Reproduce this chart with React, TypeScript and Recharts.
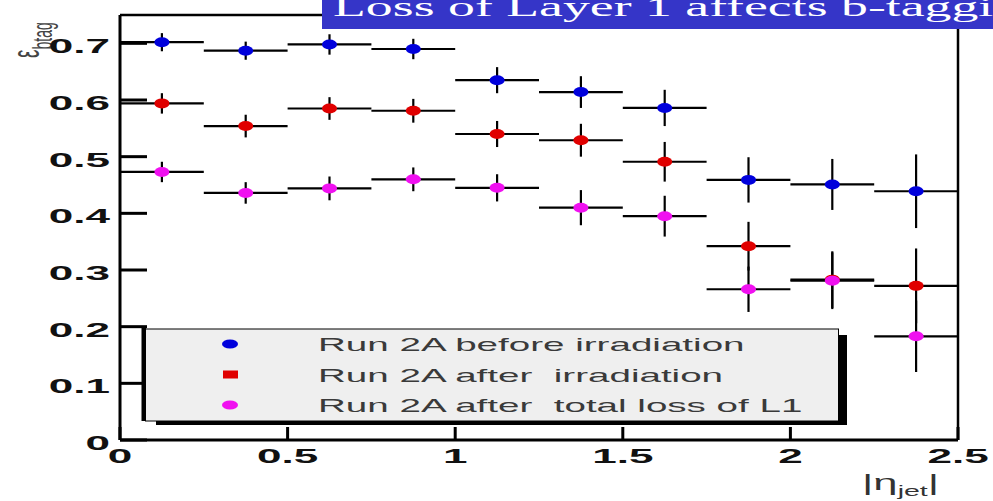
import React from "react";
import {
  ScatterChart,
  Scatter,
  XAxis,
  YAxis,
  ErrorBar,
  Legend,
} from "recharts";

// |eta_jet| bins (centres), each 0.25 wide
const etaBins = [0.125, 0.375, 0.625, 0.875, 1.125, 1.375, 1.625, 1.875, 2.125, 2.375];
const binHalfWidth = 0.125;

const effBefore = [0.702, 0.687, 0.698, 0.69, 0.635, 0.614, 0.586, 0.459, 0.451, 0.439];
const errBefore = [0.016, 0.016, 0.018, 0.018, 0.023, 0.028, 0.032, 0.04, 0.045, 0.065];

const effAfter = [0.594, 0.554, 0.585, 0.581, 0.54, 0.529, 0.491, 0.342, 0.283, 0.272];
const errAfter = [0.018, 0.02, 0.02, 0.021, 0.023, 0.029, 0.035, 0.043, 0.05, 0.066];

const effNoL1 = [0.473, 0.436, 0.444, 0.46, 0.445, 0.41, 0.395, 0.266, 0.281, 0.183];
const errNoL1 = [0.018, 0.019, 0.021, 0.021, 0.024, 0.031, 0.036, 0.04, 0.05, 0.063];

const seriesNames = [
  "Run 2A before irradiation",
  "Run 2A after  irradiation",
  "Run 2A after  total loss of L1",
];

const yMajor = [0, 0.1, 0.2, 0.3, 0.4, 0.5, 0.6, 0.7];
const yLabels = ["0", "0.1", "0.2", "0.3", "0.4", "0.5", "0.6", "0.7"];
const xMajor = [0, 0.5, 1, 1.5, 2, 2.5];
const xLabels = ["0", "0.5", "1", "1.5", "2", "2.5"];

const titleText = "Loss of Layer 1 affects b-tagging";

// minor ticks: 5 subdivisions per major step
const subdivide = (majors: number[], upTo: number) => {
  const step = (majors[1] - majors[0]) / 5;
  const out: number[] = [];
  for (let i = 0; i * step <= upTo + 1e-9; i++) out.push(Math.round(i * step * 1000) / 1000);
  return out;
};
const yMinor = subdivide(yMajor, 0.74);
const xMinor = subdivide(xMajor, 2.5);

const toPoints = (eff: number[], err: number[]) =>
  etaBins.map((x, i) => ({ x, y: eff[i], ey: err[i], ex: binHalfWidth }));

const W = 993;
const H = 501;
const LABEL_FONT = "'Liberation Sans', Arial, Helvetica, sans-serif";
const TICK_LINE = { stroke: "#000", strokeWidth: 3 };

const findMajor = (list: number[], v: number) =>
  list.findIndex((m) => Math.abs(m - v) < 1e-6);

// labels only; tick lines come from the axes (negative tickSize = pointing inward)
function YTickLabel(props: any) {
  const x = Number(props.x);
  const y = Number(props.y);
  const idx = findMajor(yMajor, Number(props.payload.value));
  if (idx < 0) return <g />;
  return (
    <g transform={`translate(${x - 10},${y + 10}) scale(2.1,1)`}>
      <text textAnchor="end" fontSize={21} fontWeight="bold" fontFamily={LABEL_FONT} fill="#111">
        {yLabels[idx]}
      </text>
    </g>
  );
}

function XTickLabel(props: any) {
  const x = Number(props.x);
  const y = Number(props.y);
  const idx = findMajor(xMajor, Number(props.payload.value));
  if (idx < 0) return <g />;
  return (
    <g transform={`translate(${x},${y + 23}) scale(2.1,1)`}>
      <text textAnchor="middle" fontSize={21} fontWeight="bold" fontFamily={LABEL_FONT} fill="#111">
        {xLabels[idx]}
      </text>
    </g>
  );
}

const NoLabel = () => <g />;

const Dot = (props: any) => {
  const { cx, cy, fill } = props;
  if (cx == null || cy == null) return null;
  return <ellipse cx={cx} cy={cy} rx={7.5} ry={5} fill={fill} />;
};

function LegendBox(props: any) {
  const items = (props.payload || [])
    .filter((it: any) => seriesNames.includes(it.value))
    .sort((a: any, b: any) => seriesNames.indexOf(a.value) - seriesNames.indexOf(b.value));
  return (
    <svg width={710} height={100} style={{ display: "block", overflow: "visible" }}>
      <rect x={698} y={8} width={8} height={90} fill="#000" />
      <rect x={15} y={94} width={691} height={4} fill="#000" />
      <rect x={4.5} y={2} width={693} height={92} fill="#efefef" stroke="#000" strokeWidth={1} />
      <rect x={0.5} y={0} width={4.5} height={94} fill="#000" />
      {items.map((it: any, i: number) => {
        const cy = 17 + i * 30.5;
        return (
          <g key={it.value}>
            {i === 1 ? (
              <rect x={82} y={cy - 4} width={15} height={8} fill={it.color} />
            ) : (
              <ellipse cx={89} cy={cy} rx={8} ry={4.5} fill={it.color} />
            )}
            <g transform={`translate(177,${cy + 7}) scale(2.03,1)`}>
              <text fontSize={19} fontFamily={LABEL_FONT} fill="#3a3a3a" style={{ whiteSpace: "pre" }}>
                {it.value}
              </text>
            </g>
          </g>
        );
      })}
    </svg>
  );
}

const XTitle = (props: any) => {
  const { viewBox } = props;
  const right = viewBox.x + viewBox.width;
  const base = viewBox.y + 50;
  return (
    <g transform={`translate(${right - 96},${base}) scale(1.9,1)`}>
      <text fontSize={23} fontFamily={LABEL_FONT} fill="#333" style={{ whiteSpace: "pre" }}>
        <tspan>|η</tspan>
        <tspan fontSize={15} dy={6}>jet</tspan>
        <tspan dy={-6}>|</tspan>
      </text>
    </g>
  );
};

const YTitle = (props: any) => {
  const { viewBox } = props;
  return (
    <g transform={`translate(${viewBox.x - 80},${viewBox.y + 43}) rotate(-90) scale(1,2)`}>
      <text fontSize={19} fontFamily={LABEL_FONT} fill="#444">
        <tspan>ε</tspan>
        <tspan fontSize={14} dy={6.5}>btag</tspan>
      </text>
    </g>
  );
};

export default function App() {
  const series = [
    { name: seriesNames[0], color: "#0000dc", data: toPoints(effBefore, errBefore) },
    { name: seriesNames[1], color: "#e00000", data: toPoints(effAfter, errAfter) },
    { name: seriesNames[2], color: "#f010f0", data: toPoints(effNoL1, errNoL1) },
  ];

  return (
    <div style={{ position: "absolute", left: 0, top: 0, width: W, height: H, background: "#fff" }}>
      <ScatterChart width={W} height={H} margin={{ top: 14, right: 34, bottom: 59, left: 118 }}>
        {/* top and right frame edges */}
        <XAxis
          xAxisId="top"
          orientation="top"
          type="number"
          domain={[0, 2.5]}
          height={1}
          tick={false}
          tickLine={false}
          axisLine={{ stroke: "#000", strokeWidth: 2.5 }}
        />
        <YAxis
          yAxisId="right"
          orientation="right"
          type="number"
          domain={[0, 0.75]}
          width={1}
          tick={false}
          tickLine={false}
          axisLine={{ stroke: "#000", strokeWidth: 2.5 }}
        />
        {/* main axes: major ticks + labels */}
        <XAxis
          type="number"
          dataKey="x"
          domain={[0, 2.5]}
          ticks={xMajor}
          interval={0}
          height={1}
          tickSize={-13}
          tickMargin={13}
          tickLine={TICK_LINE}
          tick={(p: any) => <XTickLabel {...p} />}
          axisLine={{ stroke: "#000", strokeWidth: 3 }}
          label={{ content: (p: any) => <XTitle {...p} /> }}
        />
        <YAxis
          type="number"
          dataKey="y"
          domain={[0, 0.75]}
          ticks={yMajor}
          interval={0}
          width={1}
          tickSize={-27}
          tickMargin={27}
          tickLine={TICK_LINE}
          tick={(p: any) => <YTickLabel {...p} />}
          axisLine={{ stroke: "#000", strokeWidth: 3 }}
          label={{ content: (p: any) => <YTitle {...p} /> }}
        />
        {/* minor tick axes, no labels */}
        <XAxis
          xAxisId="minor"
          type="number"
          domain={[0, 2.5]}
          ticks={xMinor}
          interval={0}
          height={1}
          tickSize={-7}
          tickLine={TICK_LINE}
          tick={NoLabel}
          axisLine={false}
        />
        <YAxis
          yAxisId="minor"
          type="number"
          domain={[0, 0.75]}
          ticks={yMinor}
          interval={0}
          width={1}
          tickSize={-13}
          tickLine={TICK_LINE}
          tick={NoLabel}
          axisLine={false}
        />
        {series.map((s) => (
          <Scatter
            key={s.name}
            name={s.name}
            data={s.data}
            fill={s.color}
            shape={Dot}
            isAnimationActive={false}
          >
            <ErrorBar dataKey="ex" direction="x" width={0} stroke="#000" strokeWidth={2.2} isAnimationActive={false} />
            <ErrorBar dataKey="ey" direction="y" width={0} stroke="#000" strokeWidth={2.2} isAnimationActive={false} />
          </Scatter>
        ))}
        <Legend
          layout="vertical"
          align="center"
          verticalAlign="middle"
          wrapperStyle={{ left: 141, top: 327, width: 710, height: 100 }}
          content={(p: any) => <LegendBox {...p} />}
        />
      </ScatterChart>
      <svg
        width={W - 322}
        height={29}
        style={{ position: "absolute", left: 322, top: 0, overflow: "hidden" }}
      >
        <rect width={W - 322} height={29} fill="#3535c8" />
        <g transform="translate(11,16) scale(1.92,1)">
          <text fontSize={28} fontFamily="'Liberation Serif', 'Times New Roman', serif" fill="#fff">
            {titleText}
          </text>
        </g>
      </svg>
    </div>
  );
}
